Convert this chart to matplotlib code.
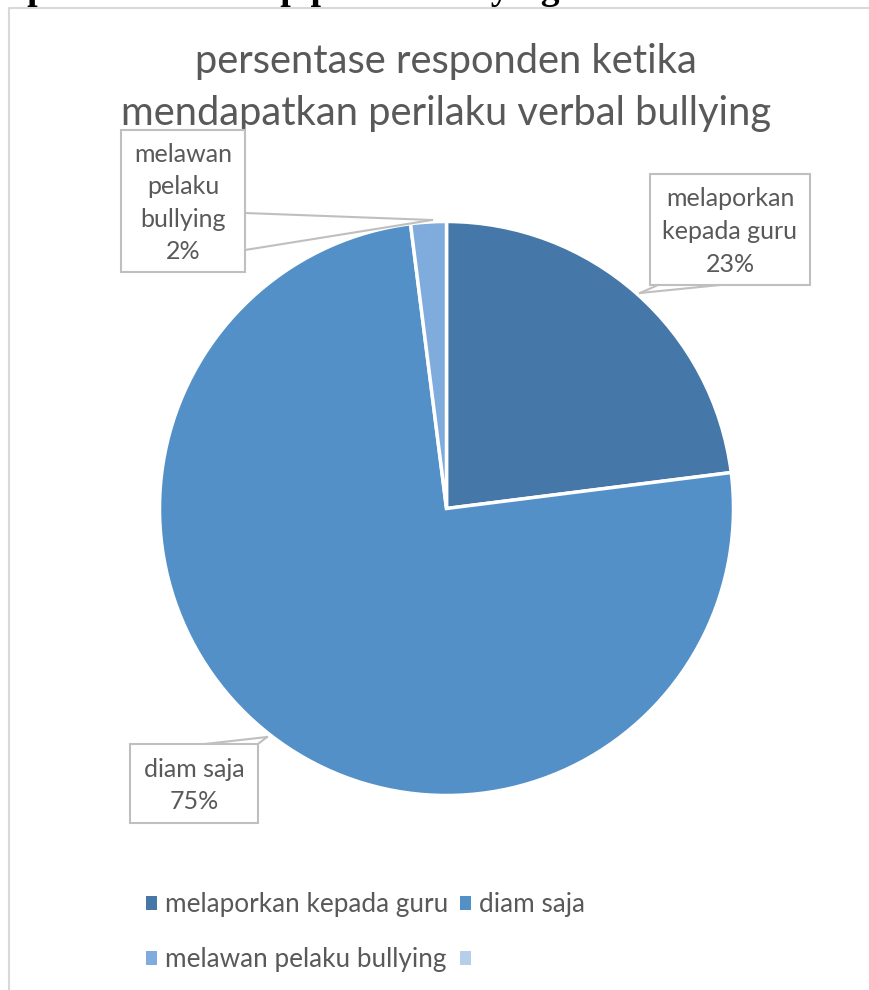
import matplotlib.pyplot as plt
from matplotlib.patches import Rectangle, Patch

# persentase responden (verbal bullying)
kategori = ['melaporkan kepada guru', 'diam saja', 'melawan pelaku bullying', '']
persen = [23, 75, 2, 0]
warna = ['#4577A8', '#5390C8', '#7FACDC', '#B7CEEA']

label_teks = ['melaporkan\nkepada guru', 'diam saja', 'melawan\npelaku\nbullying']

abu = '#595959'
font = 'Lato'

W, H = 869, 990
fig = plt.figure(figsize=(W / 100, H / 100), dpi=100)
ax = fig.add_axes([0, 0, 1, 1])
ax.set_xlim(0, W)
ax.set_ylim(H, 0)
ax.set_aspect('equal')
ax.axis('off')

# judul dokumen yang terpotong di atas
fig.text(560 / W, 1 + 1 / H, 'responden terhadap pelaku bullying',
         fontsize=27, fontweight='bold', family='Liberation Serif',
         ha='right', va='baseline', color='black')

# bingkai area chart
ax.plot([9, 9, W], [H, 8, 8], color='#D9D9D9', lw=1.5, solid_capstyle='butt')

ax.text(446, 62, 'persentase responden ketika', fontsize=28.7, family=font,
        color=abu, ha='center', va='center')
ax.text(446, 113, 'mendapatkan perilaku verbal bullying', fontsize=28.7,
        family=font, color=abu, ha='center', va='center')

# pie: mulai dari atas, searah jarum jam
isi = [(p, c) for p, c in zip(persen, warna) if p > 0]
wedges, _ = ax.pie([p for p, _ in isi], colors=[c for _, c in isi],
                   startangle=-90, counterclock=True,
                   center=(446.5, 508.5), radius=287,
                   wedgeprops=dict(edgecolor='white', linewidth=2.5))
ax.set_xlim(0, W)
ax.set_ylim(H, 0)

# kotak label data + garis penunjuk
kotak = [
    dict(box=(650, 174, 810, 285), tip=(640, 293), base=[(658, 285), (720, 285)]),
    dict(box=(130, 744, 258, 823), tip=(267, 737), base=[(205, 744), (258, 744)]),
    dict(box=(121, 130, 245, 272), tip=(432, 220), base=[(245, 213), (245, 250)]),
]
for k, teks, p in zip(kotak, label_teks, persen):
    x0, y0, x1, y1 = k['box']
    ax.add_patch(Rectangle((x0, y0), x1 - x0, y1 - y0, facecolor='white',
                           edgecolor='#BFBFBF', lw=1.5, zorder=3))
    tx, ty = k['tip']
    for bx, by in k['base']:
        ax.plot([bx, tx], [by, ty], color='#BFBFBF', lw=1.5, zorder=3)
    ax.text((x0 + x1) / 2, (y0 + y1) / 2 + 2, f'{teks}\n{p}%', fontsize=18,
            family=font, color=abu, ha='center', va='center',
            linespacing=1.5, zorder=4)

# legenda dua baris
handles = [Patch(facecolor=c, edgecolor='none', label=k)
           for k, c in zip(kategori, warna)]
urut = [0, 2, 1, 3]
leg = fig.legend([handles[i] for i in urut], [kategori[i] for i in urut],
                 ncol=2, loc='upper left', bbox_to_anchor=(146 / W, 1 - 892 / H),
                 frameon=False, prop=dict(family=font, size=18.8),
                 handlelength=0.43, handleheight=0.43, handletextpad=0.3,
                 columnspacing=0.45, labelspacing=1.15, borderpad=0,
                 borderaxespad=0)
for t in leg.get_texts():
    t.set_color(abu)

fig.savefig('out.png', dpi=100)
